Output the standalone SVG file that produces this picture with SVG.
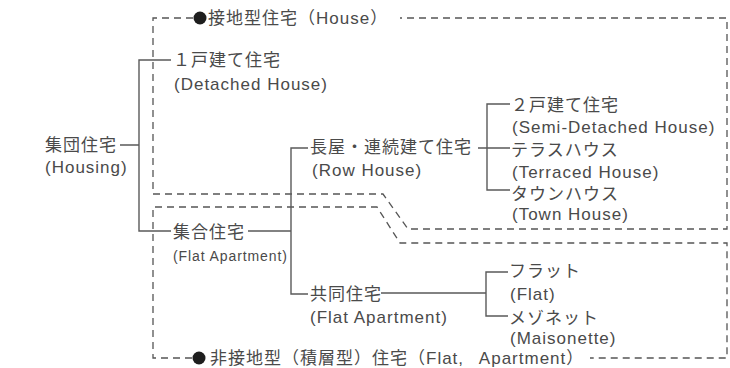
<svg xmlns="http://www.w3.org/2000/svg" width="730" height="368" viewBox="0 0 730 368">
<style>
text{font-family:"Liberation Sans","Noto Sans CJK JP",sans-serif;font-size:17px;letter-spacing:1px;fill:#4a4a4a}
text.s{font-size:14px;letter-spacing:0.9px}
.c{fill:none;stroke:#5a5a5a;stroke-width:1.4}
.d{fill:none;stroke:#555;stroke-width:1.3;stroke-dasharray:7 5}
.dot{fill:#1e1e1e}
</style>
<rect width="730" height="368" fill="#fff"/>
<g id="regions">
<path class="d" d="M193,18 H153 V194 H383 L408,229 H727 V18 H400"/>
<path class="d" d="M192,358 H153 V207 H377 L400,243 H727 V358 H590"/>
<circle class="dot" cx="200" cy="18" r="6.5"/>
<circle class="dot" cx="199" cy="358" r="6.5"/>
</g>
<g id="connectors">
<path class="c" d="M120,145 H139 M171,60 H139 V231 H171"/>
<path class="c" d="M248,231 H291 M308,148 H291 V294 H308"/>
<path class="c" d="M478,148 H510 M510,104 H487 V190 H510"/>
<path class="c" d="M381,293 H486 M508,272 H486 V316 H508"/>
</g>
<g id="n-ground"><text x="208" y="24">接地型住宅（House）</text></g>
<g id="n-nonground"><text x="210" y="364">非接地型（積層型）住宅（Flat, <tspan dx="10">Apartment）</tspan></text></g>
<g id="n-housing"><text x="45" y="151">集団住宅</text><text x="45" y="173">(Housing)</text></g>
<g id="n-detached"><text x="173" y="66">１戸建て住宅</text><text x="174" y="90">(Detached House)</text></g>
<g id="n-flatapt"><text x="173" y="238">集合住宅</text><text class="s" x="173" y="261">(Flat Apartment)</text></g>
<g id="n-row"><text x="310" y="153">長屋・連続建て住宅</text><text x="312" y="176">(Row House)</text></g>
<g id="n-kyodo"><text x="310" y="300">共同住宅</text><text x="310" y="323">(Flat Apartment)</text></g>
<g id="n-semi"><text x="511" y="111">２戸建て住宅</text><text x="512" y="133">(Semi-Detached House)</text></g>
<g id="n-terraced"><text x="511" y="156">テラスハウス</text><text x="512" y="178">(Terraced House)</text></g>
<g id="n-town"><text x="511" y="200">タウンハウス</text><text x="512" y="220">(Town House)</text></g>
<g id="n-flat"><text x="509" y="277">フラット</text><text x="510" y="300">(Flat)</text></g>
<g id="n-maison"><text x="509" y="324">メゾネット</text><text x="510" y="344">(Maisonette)</text></g>
</svg>
